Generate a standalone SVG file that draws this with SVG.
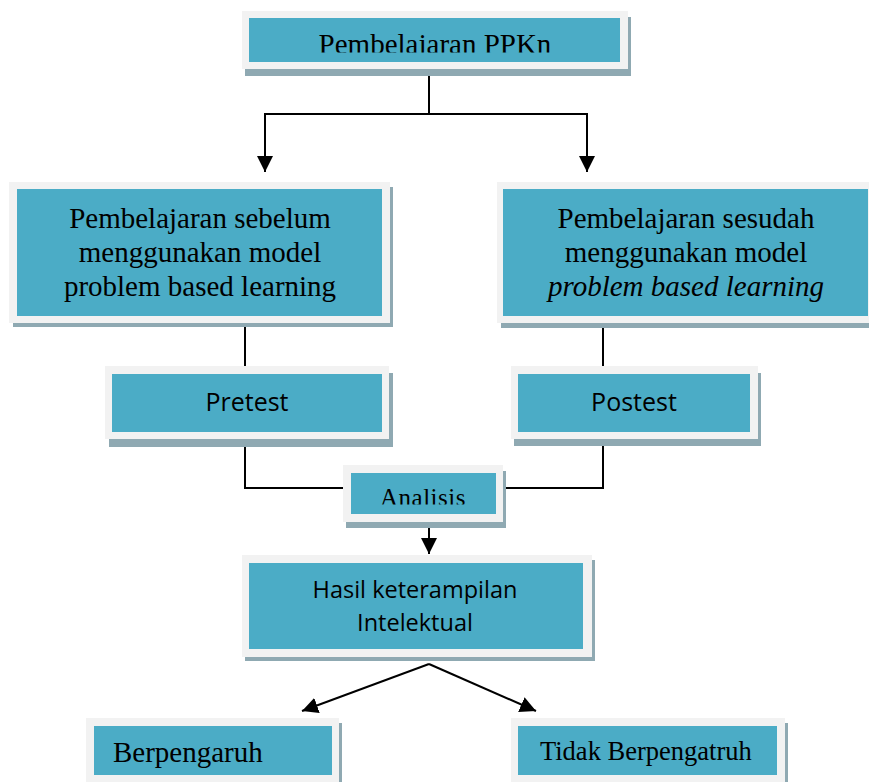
<svg xmlns="http://www.w3.org/2000/svg" width="869" height="782" viewBox="0 0 869 782">
<style>
.sh{fill:#8FA9B2}
.fr{fill:#F2F2F2}
.tl{fill:#4BACC6}
.serif{font-family:"Liberation Serif","Times New Roman",serif;fill:#000}
.sans{font-family:"Open Sans","Liberation Sans",sans-serif;fill:#000}
.c{text-anchor:middle}
.ln{fill:none;stroke:#000;stroke-width:2}
</style>
<defs>
<marker id="ah" viewBox="0 0 10 10" refX="10" refY="5" markerWidth="16" markerHeight="17" markerUnits="userSpaceOnUse" orient="auto">
<path d="M0,0 L10,5 L0,10 z" fill="#000"/>
</marker>
<clipPath id="clipTop"><rect x="249" y="18" width="371" height="34.5"/></clipPath>
<clipPath id="clipAn"><rect x="351" y="473" width="145" height="31.5"/></clipPath>
</defs>
<rect width="869" height="782" fill="#fff"/>

<g id="connectors">
<path class="ln" d="M429 69 V114 M265 114 H587"/>
<path class="ln" d="M265 113 V172" marker-end="url(#ah)"/>
<path class="ln" d="M587 113 V172" marker-end="url(#ah)"/>
<path class="ln" d="M245 327 V366 M245 439 V488 H343"/>
<path class="ln" d="M603 328 V366 M603 439 V488 H503"/>
<path class="ln" d="M429 522 V554" marker-end="url(#ah)"/>
<path class="ln" d="M429 664 L302 711" marker-end="url(#ah)"/>
<path class="ln" d="M429 664 L536 711" marker-end="url(#ah)"/>
</g>

<g id="node-ppkn">
<rect class="sh" x="245" y="17" width="386" height="59"/>
<rect class="fr" x="242" y="11" width="386" height="58"/>
<rect class="tl" x="249" y="18" width="371" height="44"/>
<text class="serif c" x="435" y="53.5" font-size="29" clip-path="url(#clipTop)">Pembelajaran PPKn</text>
</g>

<g id="node-sebelum">
<rect class="sh" x="13" y="187" width="380" height="140"/>
<rect class="fr" x="9" y="182" width="381" height="141"/>
<rect class="tl" x="17" y="189" width="365" height="127"/>
<text class="serif c" font-size="29"><tspan x="200" y="228">Pembelajaran sebelum</tspan><tspan x="200" y="262">menggunakan model</tspan><tspan x="200" y="296">problem based learning</tspan></text>
</g>

<g id="node-sesudah">
<rect class="sh" x="501" y="187" width="372" height="141"/>
<rect class="fr" x="497" y="182" width="372" height="141"/>
<rect class="tl" x="503" y="189" width="365" height="127"/>
<text class="serif c" font-size="29"><tspan x="686" y="228">Pembelajaran sesudah</tspan><tspan x="686" y="262">menggunakan model</tspan><tspan x="686" y="296" font-style="italic">problem based learning</tspan></text>
</g>

<g id="node-pretest">
<rect class="sh" x="109" y="373" width="284" height="74"/>
<rect class="fr" x="105" y="366" width="284" height="73"/>
<rect class="tl" x="112" y="374" width="270" height="58"/>
<text class="sans c" x="247" y="411" font-size="25">Pretest</text>
</g>

<g id="node-postest">
<rect class="sh" x="514" y="373" width="247" height="73"/>
<rect class="fr" x="511" y="366" width="247" height="73"/>
<rect class="tl" x="518" y="374" width="232" height="58"/>
<text class="sans c" x="634" y="411" font-size="25">Postest</text>
</g>

<g id="node-analisis">
<rect class="sh" x="346" y="471" width="160" height="57"/>
<rect class="fr" x="343" y="465" width="160" height="57"/>
<rect class="tl" x="351" y="473" width="145" height="41"/>
<text class="serif c" x="423" y="506" font-size="25" letter-spacing="0.5" clip-path="url(#clipAn)">Analisis</text>
</g>

<g id="node-hasil">
<rect class="sh" x="245" y="560" width="350" height="101"/>
<rect class="fr" x="242" y="555" width="350" height="102"/>
<rect class="tl" x="249" y="563" width="334" height="86"/>
<text class="sans c" font-size="23.5"><tspan x="415" y="598">Hasil keterampilan</tspan><tspan x="415" y="631">Intelektual</tspan></text>
</g>

<g id="node-berpengaruh">
<rect class="sh" x="89" y="723" width="253" height="70"/>
<rect class="fr" x="86" y="718" width="253" height="70"/>
<rect class="tl" x="94" y="726" width="238" height="49"/>
<text class="serif" x="113" y="762" font-size="29">Berpengaruh</text>
</g>

<g id="node-tidak">
<rect class="sh" x="514" y="723" width="274" height="70"/>
<rect class="fr" x="511" y="718" width="274" height="70"/>
<rect class="tl" x="518" y="726" width="259" height="49"/>
<text class="serif" x="540" y="760" font-size="26.5">Tidak Berpengatruh</text>
</g>
</svg>
